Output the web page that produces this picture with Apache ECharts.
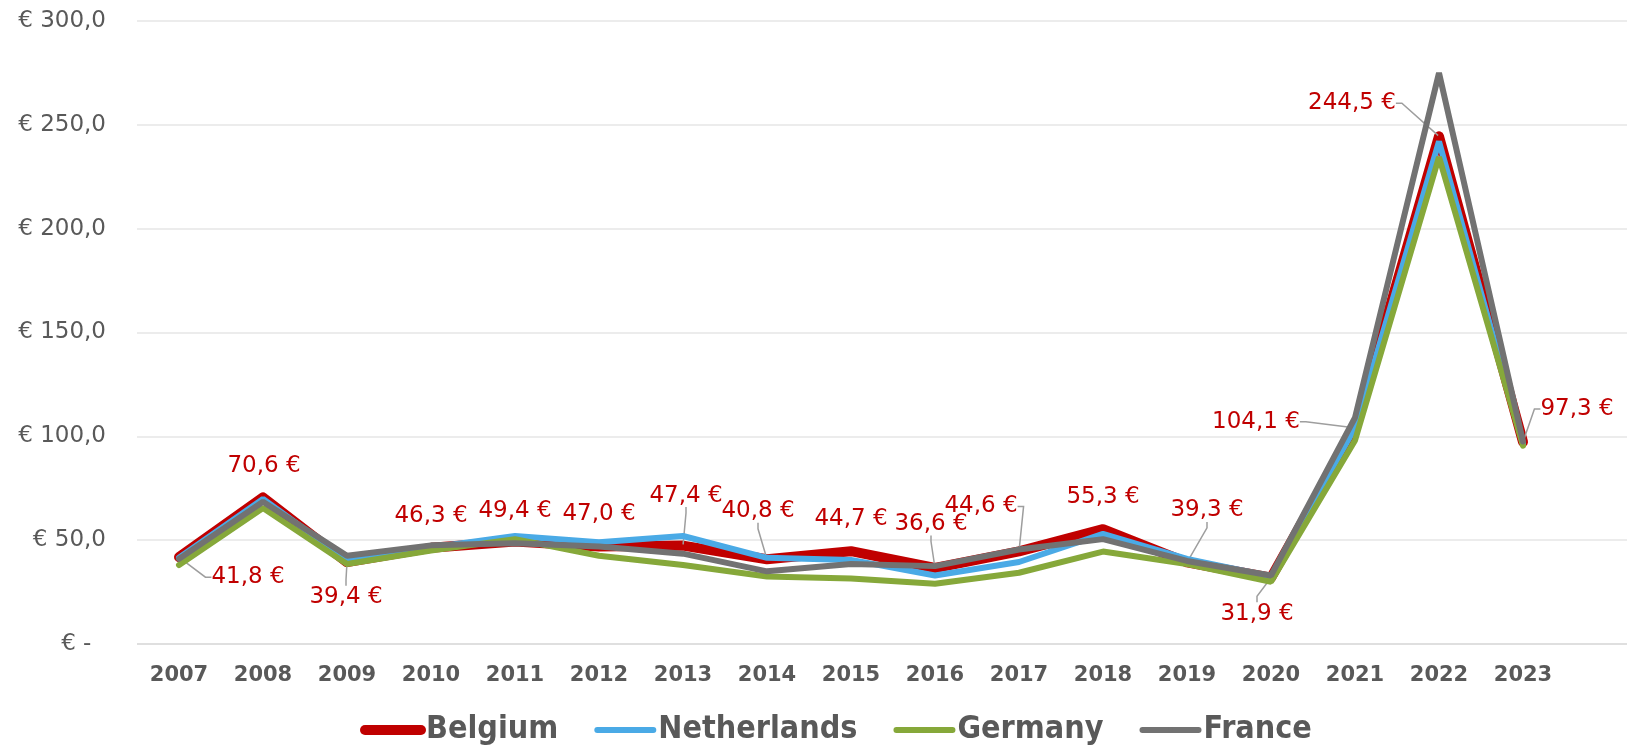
<!DOCTYPE html>
<html>
<head>
<meta charset="utf-8">
<script src="https://cdn.jsdelivr.net/npm/echarts@6/dist/echarts.min.js"></script>
<style>
  html, body { margin: 0; padding: 0; background: #fff; }
  #chart { width: 1627px; height: 745px; }
</style>
</head>
<body>
<div id="chart"></div>
<script>
var years = ['2007','2008','2009','2010','2011','2012','2013','2014','2015','2016','2017','2018','2019','2020','2021','2022','2023'];
var belgium     = [41.8, 70.6, 39.4, 46.3, 49.4, 47.0, 47.4, 40.8, 44.7, 36.6, 44.6, 55.3, 39.3, 31.9, 104.1, 244.5, 97.3];
var netherlands = [41.5, 69.8, 40.5, 46.5, 52.0, 49.0, 52.0, 41.5, 40.5, 33.0, 39.5, 53.0, 41.0, 32.5, 104.0, 242.0, 96.5];
var germany     = [38.0, 65.5, 38.5, 45.0, 50.5, 42.5, 38.0, 32.5, 31.5, 29.0, 34.3, 44.5, 38.5, 30.0, 98.0, 234.5, 95.5];
var france      = [41.0, 68.5, 42.5, 47.5, 48.5, 47.0, 43.5, 35.0, 38.5, 37.5, 45.5, 50.5, 40.0, 33.0, 109.0, 275.0, 97.5];
var yTicks = [0, 50, 100, 150, 200, 250, 300];

// where each Belgium label sits relative to its point, and which ones get a leader line
var labelShift = [[69,20],[1,-31],[-1,35],[0,-32],[0,-30],[0,-32],[3,-50],[-9,-48],[0,-32],[-4,-44],[-38,-45],[0,-32],[20,-52],[-14,36],[-99,-6],[-87,-33],[54,-33]];
var leader = [1,0,1,0,0,0,1,1,0,1,1,0,1,1,1,1,1];

var font = 'DejaVu Sans';
var grey = '#595959';
var colRed = '#c00000', colBlue = '#4aaae6', colGreen = '#86a83a', colGrey = '#727272';

function euro(v) {
  return v.toFixed(1).replace('.', ',');
}

var belgiumData = belgium.map(function (v, i) {
  return { value: v, labelLine: { show: !!leader[i] } };
});

function lineSeries(name, data, color, z) {
  return {
    name: name,
    type: 'line',
    data: data,
    symbol: 'none',
    itemStyle: { color: color },
    lineStyle: { color: color, width: 6, cap: 'round' },
    emphasis: { disabled: true },
    z: z
  };
}

var chart = echarts.init(document.getElementById('chart'));
chart.setOption({
  animation: false,
  grid: [
    { left: 137, top: 21, width: 1428, height: 623 },
    { left: 137, top: 21, right: 0, height: 623 }
  ],
  legend: {
    left: 360,
    top: 714,
    padding: 0,
    itemGap: 36,
    itemWidth: 56,
    itemHeight: 6,
    lineStyle: { width: 'inherit' },
    textStyle: {
      fontFamily: '"DejaVu Sans Condensed", "DejaVu Sans", sans-serif',
      fontWeight: 'bold',
      fontSize: 32,
      color: grey
    },
    data: ['Belgium', 'Netherlands', 'Germany', 'France']
  },
  xAxis: [
    {
      type: 'category',
      gridIndex: 0,
      data: years,
      axisLine: { show: false },
      axisTick: { show: false },
      axisLabel: { fontFamily: font, fontWeight: 'bold', fontSize: 21, color: grey, margin: 21 }
    },
    { type: 'value', gridIndex: 1, show: false }
  ],
  yAxis: [
    {
      type: 'value',
      gridIndex: 0,
      min: 0,
      max: 300,
      interval: 50,
      splitLine: { show: false },
      axisLine: { show: false },
      axisTick: { show: false },
      axisLabel: {
        fontFamily: font,
        fontSize: 23,
        color: grey,
        margin: 31,
        formatter: function (v) { return v === 0 ? '€ -  ' : '€ ' + euro(v); }
      }
    },
    {
      type: 'value',
      gridIndex: 1,
      min: 0,
      max: 300,
      interval: 50,
      axisLabel: { show: false },
      axisLine: { show: false },
      axisTick: { show: false },
      splitLine: {
        show: true,
        lineStyle: {
          width: 1.5,
          color: yTicks.map(function (t) { return t === 0 ? '#d4d4d4' : '#e6e6e6'; })
        }
      }
    }
  ],
  series: [
    {
      name: 'Belgium',
      type: 'line',
      data: belgiumData,
      symbol: 'circle',
      symbolSize: 2,
      itemStyle: { color: colRed, borderWidth: 0 },
      lineStyle: { color: colRed, width: 10, cap: 'round', join: 'round' },
      label: {
        show: true,
        position: 'inside',
        fontFamily: font,
        fontSize: 23,
        color: colRed,
        formatter: function (p) { return euro(p.value) + ' €'; }
      },
      labelLayout: function (p) {
        var s = labelShift[p.dataIndex];
        return { dx: s[0], dy: s[1] };
      },
      labelLine: {
        show: false,
        length2: 6,
        lineStyle: { color: '#9e9e9e', width: 1.5 }
      },
      emphasis: { disabled: true },
      z: 2
    },
    lineSeries('Netherlands', netherlands, colBlue, 3),
    lineSeries('Germany', germany, colGreen, 4),
    lineSeries('France', france, colGrey, 5)
  ]
});
</script>
</body>
</html>
